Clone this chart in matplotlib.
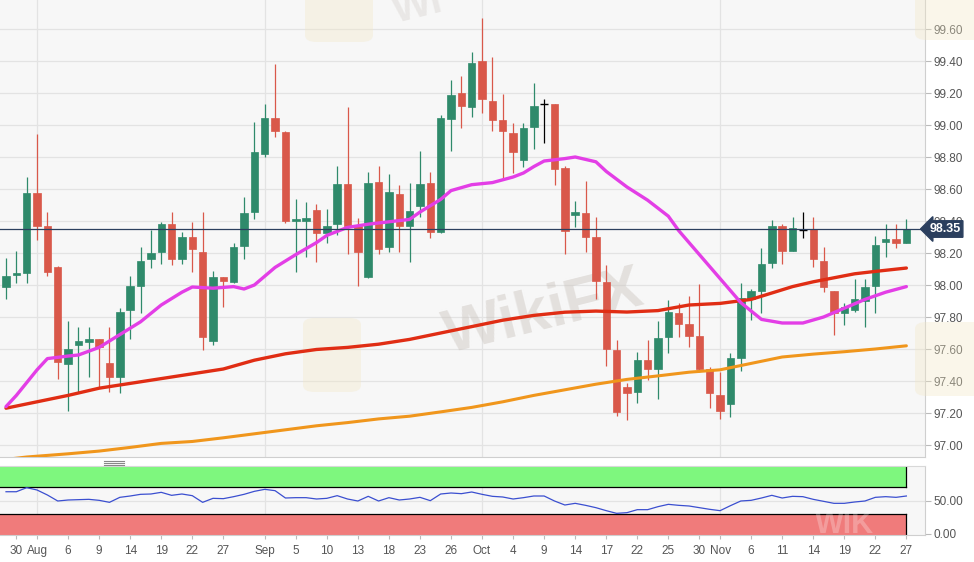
import matplotlib
matplotlib.use("Agg")
import matplotlib.pyplot as plt
from matplotlib.patches import Rectangle, FancyBboxPatch
import numpy as np

plt.rcParams['font.family'] = ['Liberation Sans', 'DejaVu Sans']

# ---------------- data ----------------
opens = [97.99, 98.06, 98.075, 98.575, 98.369, 98.11, 97.506, 97.625, 97.644, 97.66,
         97.51, 97.425, 97.844, 97.994, 98.162, 98.206, 98.381, 98.162, 98.30, 98.206,
         97.65, 98.05, 98.019, 98.244, 98.456, 98.82, 99.044, 98.956, 98.398, 98.40,
         98.47, 98.325, 98.381, 98.631, 98.369, 98.05, 98.644, 98.24, 98.569, 98.369,
         98.494, 98.6375, 98.331, 99.0375, 99.20, 99.1125, 99.40, 99.15, 99.03, 98.95,
         98.78, 98.9875, 99.13, 99.13, 98.73, 98.4375, 98.45, 98.30, 98.019, 97.594,
         97.3625, 97.331, 97.531, 97.475, 97.675, 97.825, 97.756, 97.681, 97.475, 97.3125,
         97.256, 97.544, 97.9125, 97.9625, 98.1375, 98.369, 98.2125, 98.344, 98.35, 98.15,
         97.9625, 97.825, 97.844, 97.90, 97.994, 98.269, 98.2875, 98.2625]
highs = [98.17, 98.21, 98.675, 98.944, 98.456, 98.12, 97.775, 97.74, 97.74, 97.66,
         97.74, 97.856, 98.056, 98.24, 98.344, 98.394, 98.456, 98.331, 98.394, 98.456,
         98.09, 98.05, 98.26, 98.55, 99.02, 99.13, 99.38, 98.96, 98.54, 98.52,
         98.506, 98.475, 98.744, 99.11, 98.42, 98.706, 98.744, 98.694, 98.625, 98.6375,
         98.8375, 98.706, 99.06, 99.28, 99.306, 99.456, 99.67, 99.425, 99.194, 99.01,
         99.01, 99.2625, 99.16, 99.13, 98.744, 98.525, 98.65, 98.425, 98.125, 97.656,
         97.3875, 97.58, 97.656, 97.775, 97.906, 97.8875, 97.93, 98.006, 97.4875, 97.456,
         97.575, 98.0125, 97.975, 98.231, 98.406, 98.381, 98.425, 98.456, 98.425, 98.2375,
         97.9625, 97.8875, 98.0375, 98.0375, 98.306, 98.381, 98.381, 98.4125]
lows = [97.91, 98.01, 98.01, 98.28, 98.056, 97.41, 97.21, 97.33, 97.425, 97.36,
        97.33, 97.325, 97.66, 97.825, 98.106, 98.13, 98.125, 98.131, 98.08, 97.594,
        97.625, 97.86, 98.01, 98.16, 98.41, 98.80, 98.925, 98.39, 98.08, 98.175,
        98.144, 98.26, 98.313, 98.194, 97.994, 98.044, 98.194, 98.206, 98.206, 98.144,
        98.425, 98.294, 98.325, 98.8375, 98.98, 99.05, 99.075, 98.9625, 98.6625, 98.70,
        98.7375, 98.85, 98.89, 98.625, 98.194, 98.3625, 98.206, 97.9125, 97.494, 97.181,
        97.156, 97.2625, 97.406, 97.2875, 97.575, 97.675, 97.6125, 97.456, 97.23, 97.1625,
        97.175, 97.4625, 97.78, 97.825, 98.106, 98.131, 98.2125, 98.294, 98.1125, 97.956,
        97.6875, 97.75, 97.83, 97.7375, 97.825, 98.175, 98.231, 98.2625]
closes = [98.056, 98.07, 98.575, 98.369, 98.08, 97.52, 97.60, 97.65, 97.66, 97.61,
          97.425, 97.83, 97.994, 98.15, 98.20, 98.381, 98.162, 98.30, 98.225, 97.675,
          98.05, 98.025, 98.24, 98.45, 98.83, 99.044, 98.96, 98.40, 98.405, 98.42,
          98.325, 98.369, 98.631, 98.369, 98.206, 98.6375, 98.225, 98.581, 98.369, 98.4625,
          98.631, 98.331, 99.044, 99.1875, 99.12, 99.3875, 99.1625, 99.03, 98.9625, 98.83,
          98.98, 99.12, 99.13, 98.725, 98.3375, 98.456, 98.30, 98.025, 97.60, 97.206,
          97.325, 97.531, 97.475, 97.669, 97.831, 97.756, 97.681, 97.475, 97.325, 97.2125,
          97.544, 97.919, 97.9625, 98.131, 98.369, 98.2125, 98.356, 98.344, 98.1625, 97.9875,
          97.825, 97.8625, 97.9125, 97.9875, 98.25, 98.2875, 98.2625, 98.35]

ma_fast_idx = [0, 1, 3, 4, 6, 7, 9, 11, 13, 15, 17, 18, 20, 22, 23, 24, 26, 28, 30, 31,
               33, 35, 37, 39, 40, 42, 43, 45, 47, 49, 50, 51, 52, 54, 55, 57, 58, 60, 62,
               64, 65, 67, 69, 71, 73, 75, 77, 79, 81, 83, 85, 87]
ma_fast = [97.24, 97.31, 97.47, 97.54, 97.556, 97.5625, 97.61, 97.69, 97.77, 97.875,
           97.955, 97.9875, 97.98, 97.99, 97.975, 98.0, 98.11, 98.19, 98.265, 98.31,
           98.36, 98.38, 98.395, 98.41, 98.456, 98.535, 98.59, 98.627, 98.64, 98.675,
           98.70, 98.74, 98.775, 98.79, 98.80, 98.77, 98.71, 98.6125, 98.53,
           98.43, 98.34, 98.19, 98.04, 97.89, 97.785, 97.7625, 97.7625, 97.80, 97.855,
           97.91, 97.955, 97.99]

ma_mid_idx = [0, 3, 6, 9, 12, 15, 18, 21, 24, 27, 30, 33, 36, 39, 42, 45, 48, 51, 54, 57,
              60, 63, 66, 69, 72, 74, 76, 78, 80, 82, 84, 87]
ma_mid = [97.23, 97.27, 97.31, 97.355, 97.385, 97.415, 97.445, 97.475, 97.53, 97.57,
          97.597, 97.61, 97.63, 97.66, 97.70, 97.74, 97.78, 97.81, 97.83, 97.837,
          97.831, 97.84, 97.875, 97.885, 97.91, 97.95, 97.99, 98.02, 98.045, 98.07,
          98.085, 98.106]

ma_slow_idx = [0, 2, 6, 9, 12, 15, 18, 21, 24, 27, 30, 33, 36, 39, 42, 45, 48, 51, 54, 57,
               60, 63, 66, 69, 72, 75, 78, 81, 84, 87]
ma_slow = [96.91, 96.925, 96.945, 96.962, 96.985, 97.01, 97.022, 97.045, 97.07, 97.095,
           97.12, 97.14, 97.163, 97.18, 97.207, 97.235, 97.27, 97.31, 97.345, 97.38,
           97.41, 97.432, 97.455, 97.47, 97.51, 97.55, 97.568, 97.583, 97.60, 97.62]

rsi = [63.4, 63.4, 69.5, 66, 58.5, 49.5, 51, 51.5, 52, 50.5,
       47.5, 55, 57, 59.5, 60, 62.5, 58, 60, 57.5, 47.5,
       53.5, 53, 56, 59.5, 64, 67, 65, 54, 54.5, 54.5,
       52.5, 53.5, 57.5, 52.5, 49.5, 56.5, 49.5, 54.5, 51, 52.5,
       55, 50, 60, 61.5, 60.5, 63, 59.5, 56.5, 55.5, 52.5,
       54.5, 57, 57, 49.5, 43.5, 46, 43, 39.5, 35, 31,
       32, 36.5, 36.5, 41, 44.5, 43, 42, 39.5, 37, 35,
       42.5, 49.5, 50.5, 54, 58, 54, 56.5, 56, 52, 49,
       46, 46, 48, 49.5, 55, 56, 55, 57]

tick_idx = [1, 3, 6, 9, 12, 15, 18, 21, 25, 28, 31, 34, 37, 40, 43, 46, 49, 52, 55, 58,
            61, 64, 67, 69, 72, 75, 78, 81, 84, 87]
tick_labels = ['30', 'Aug', '6', '9', '14', '19', '22', '27', 'Sep', '5', '10', '13', '18',
               '23', '26', 'Oct', '4', '9', '14', '17', '22', '25', '30', 'Nov', '6', '11',
               '14', '19', '22', '27']
month_idx = [3, 25, 46, 69]
price_ticks = [97.00, 97.20, 97.40, 97.60, 97.80, 98.00, 98.20, 98.40, 98.60, 98.80,
               99.00, 99.20, 99.40, 99.60]
last_price = 98.35

# ---------------- styling ----------------
GREEN = '#2f8a6b'
RED = '#d9584a'
BG = '#f7f7f7'
GRID = '#e3e3e3'
TXT = '#555555'
NAVY = '#2b3f5e'

W, H = 974, 562
fig = plt.figure(figsize=(W / 100, H / 100), dpi=100)
fig.patch.set_facecolor('white')

def fx(px):
    return px / W

def fy(py):
    return 1 - py / H

ax = fig.add_axes([0, fy(457), fx(925), fy(0) - fy(457)])
ax2 = fig.add_axes([0, fy(535), fx(925), fy(466) - fy(535)])

xlim = (-0.58, 88.8)
for a in (ax, ax2):
    a.set_facecolor(BG)
    a.set_xlim(*xlim)
    for s in ('left', 'top'):
        a.spines[s].set_visible(False)
    for s in ('right', 'bottom'):
        a.spines[s].set_color('#cfcfcf')
        a.spines[s].set_linewidth(0.8)
    for m in month_idx:
        a.axvline(m, color=GRID, lw=0.9, zorder=0)

ax2.spines['top'].set_visible(True)
ax2.spines['top'].set_color('#d8d8d8')

# main panel
ax.set_ylim(96.925, 99.78125)
for p in price_ticks:
    ax.axhline(p, color=GRID, lw=0.9, zorder=0)
ax.axhline(99.80, color=GRID, lw=0.9, zorder=0)

# watermark
ax.text(52, 97.82, 'WikiFX', fontsize=44, fontweight='bold', color='#cbc4be', alpha=0.45,
        rotation=14, ha='center', va='center', zorder=0.5)
ax.text(37, 99.74, 'Wi', fontsize=30, fontweight='bold', color='#cbc4be', alpha=0.3,
        rotation=14, ha='left', va='center', zorder=0.5)
for (x0, y0, w, h, host) in [(305, -20, 68, 62, ax), (303, 318, 58, 74, ax),
                             (915, -20, 70, 60, fig), (915, 322, 70, 74, fig)]:
    patch = FancyBboxPatch((fx(x0), fy(y0 + h)), fx(w), fy(0) - fy(h),
                           boxstyle='round,pad=0,rounding_size=0.012',
                           transform=fig.transFigure, facecolor='#f2e7c4',
                           edgecolor='none', alpha=0.35, zorder=0.4)
    if host is ax:
        ax.add_patch(patch)
    else:
        fig.add_artist(patch)

bw = 0.72
n = len(opens)
for i in range(n):
    o, h, l, c = opens[i], highs[i], lows[i], closes[i]
    if c > o:
        col = GREEN
    elif c < o:
        col = RED
    else:
        col = 'black'
    ax.vlines(i, l, h, color=col, lw=0.9, zorder=3)
    if col == 'black':
        ax.hlines(o, i - bw / 2, i + bw / 2, color='black', lw=1.0, zorder=3)
    else:
        bot = min(o, c)
        hgt = max(abs(c - o), 0.012)
        ax.add_patch(Rectangle((i - bw / 2, bot), bw, hgt, facecolor=col,
                               edgecolor=col, lw=0.5, zorder=4))

ax.plot(ma_slow_idx, ma_slow, color='#f0961c', lw=2.2, zorder=5, solid_capstyle='round')
ax.plot(ma_mid_idx, ma_mid, color='#e02d14', lw=2.4, zorder=5, solid_capstyle='round')
ax.plot(ma_fast_idx, ma_fast, color='#e33ee6', lw=2.4, zorder=6, solid_capstyle='round')

ax.axhline(last_price, color=NAVY, lw=0.9, zorder=7)

ax.yaxis.tick_right()
ax.set_yticks(price_ticks)
ax.set_yticklabels([f'{p:.2f}' for p in price_ticks])
ax.tick_params(axis='y', direction='out', length=4, width=0.8, color='#bbbbbb',
               labelsize=8.5, labelcolor=TXT, pad=2)
ax.tick_params(axis='x', length=0, labelbottom=False)
ax.set_xticks([])
ax.text(1.0, 99.80, '  99.80', transform=ax.get_yaxis_transform(), fontsize=8.5,
        color=TXT, va='center', ha='left', clip_on=False)

# last price tag
fig.text(fx(945), fy(229), f'{last_price:.2f}', color='white', fontsize=9, fontweight='bold',
         ha='center', va='center', zorder=10,
         bbox=dict(boxstyle='larrow,pad=0.18', facecolor=NAVY, edgecolor=NAVY))

# handle between panels
for yy in (461, 463, 465):
    fig.add_artist(plt.Line2D([fx(104), fx(124)], [fy(yy), fy(yy)], color='#888888', lw=0.8))

# RSI panel
ax2.set_ylim(-1.5, 102)
ax2.axhline(50, color=GRID, lw=0.9, zorder=0)
last = n - 1
ax2.fill_between([xlim[0], last], 70, 100, color='#7ef77e', zorder=1, lw=0)
ax2.fill_between([xlim[0], last], -1.5, 30, color='#f07b7b', zorder=1, lw=0)
ax2.plot([xlim[0], last], [70, 70], color='black', lw=0.9, zorder=2)
ax2.plot([xlim[0], last], [30, 30], color='black', lw=0.9, zorder=2)
ax2.plot([last, last], [70, 100], color='black', lw=0.9, zorder=2)
ax2.plot([last, last], [-1.5, 30], color='black', lw=0.9, zorder=2)
ax2.text(81, 14, 'WIK', fontsize=22, fontweight='bold', color='white', alpha=0.25,
         ha='center', va='center', zorder=2)
ax2.plot(range(n), rsi, color='#3b4fd0', lw=0.9, zorder=3)

ax2.yaxis.tick_right()
ax2.set_yticks([0, 50])
ax2.set_yticklabels(['0.00', '50.00'])
ax2.tick_params(axis='y', direction='out', length=4, width=0.8, color='#bbbbbb',
                labelsize=8.5, labelcolor=TXT, pad=2)
ax2.set_xticks(tick_idx)
ax2.set_xticklabels(tick_labels)
ax2.tick_params(axis='x', direction='out', length=3, width=0.8, color='#bbbbbb',
                labelsize=8.5, labelcolor=TXT, pad=4)

fig.savefig('out.png', dpi=100, facecolor='white')
